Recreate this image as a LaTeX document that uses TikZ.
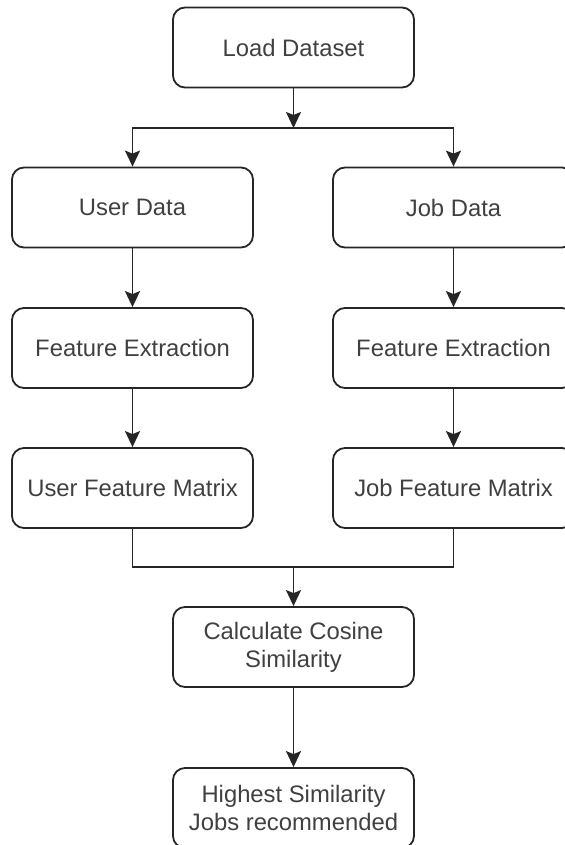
\documentclass[tikz,border=0pt]{standalone}
\usepackage{fontspec}
\setmainfont{Liberation Sans}
\usetikzlibrary{arrows.meta}
\begin{document}
\begin{tikzpicture}[x=1bp,y=-1bp,
  box/.style={draw=black!85, line width=1.8bp, rounded corners=12bp,
    minimum width=241bp, minimum height=80bp, inner sep=0pt, align=center,
    text=black!75, font=\fontsize{23.9pt}{28.1pt}\selectfont},
  plain/.style={draw=black!85, line width=1.8bp},
  arr/.style={plain, -{Stealth[length=16bp,width=15bp,inset=3bp]}}]
  % page frame
  \useasboundingbox (0,0) rectangle (565,845);
  \clip (0,0) rectangle (565,845);

  % process steps
  \node[box] (load) at (293.5,47.5) {Load Dataset};
  \node[box] (user) at (132.5,207.5) {User Data};
  \node[box] (job)  at (453.5,207.5) {Job Data};
  \node[box] (ufe)  at (132.5,348) {Feature Extraction};
  \node[box] (jfe)  at (453.5,348) {Feature Extraction};
  \node[box] (ufm)  at (132.5,488) {User Feature Matrix};
  \node[box] (jfm)  at (453.5,488) {Job Feature Matrix};
  \node[box] (cos)  at (293.5,647) {Calculate Cosine\\Similarity};
  \node[box] (rec)  at (293.5,808) {Highest Similarity\\Jobs recommended};

  % branching points
  \coordinate (split) at (293.5,128);
  \coordinate (merge) at (293.5,567);

  % split into two branches
  \draw[arr] (load) -- (split);
  \draw[arr] (split) -| (user);
  \draw[arr] (split) -| (job);

  % branch pipelines
  \draw[arr] (user) -- (ufe);
  \draw[arr] (ufe) -- (ufm);
  \draw[arr] (job) -- (jfe);
  \draw[arr] (jfe) -- (jfm);

  % merge and final steps
  \draw[plain] (ufm) |- (merge) -| (jfm);
  \draw[arr] (merge) -- (cos);
  \draw[arr] (cos) -- (rec);
\end{tikzpicture}
\end{document}
